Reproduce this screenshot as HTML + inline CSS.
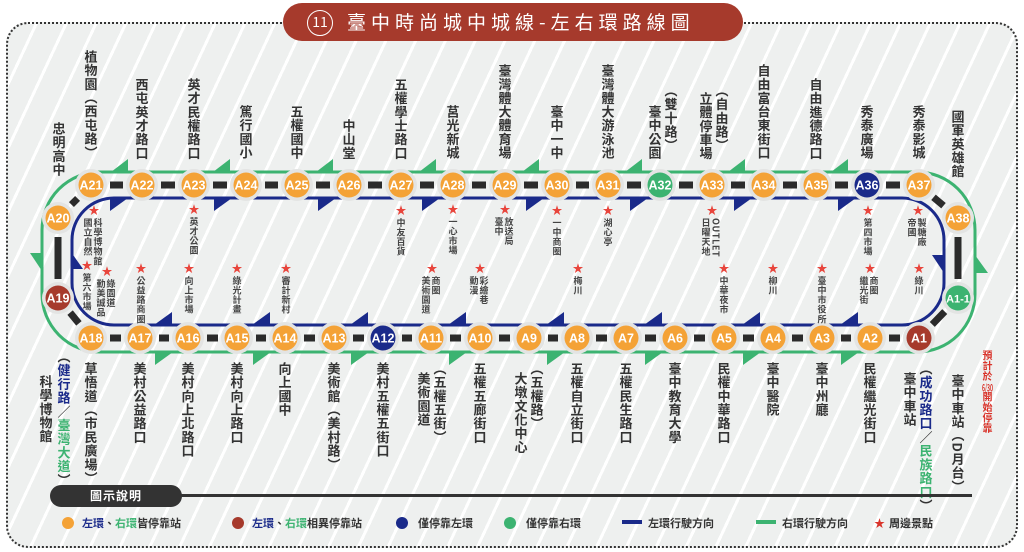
<!DOCTYPE html>
<html><head><meta charset="utf-8">
<style>
*{margin:0;padding:0;box-sizing:border-box}
body{width:1024px;height:552px;overflow:hidden;background:#fff;position:relative;font-family:"Liberation Sans","Noto Sans CJK TC",sans-serif}
#bg{position:absolute;left:6px;top:22px;width:1012px;height:526px;border:2px dotted #333;border-radius:22px;
background:repeating-linear-gradient(115deg,#eef0ef 0 24px,#fff 24px 27px)}
#title{position:absolute;left:283px;top:3px;width:460px;height:38px;background:#a63a2c;border-radius:19px;color:#fff;font-size:19px;letter-spacing:5px;line-height:38px;padding-left:24px;font-family:"Noto Sans CJK TC",sans-serif}
#title .n{display:inline-block;width:26px;height:26px;border:1.5px solid #fff;border-radius:50%;font-size:14px;line-height:23px;text-align:center;letter-spacing:0;vertical-align:2px;margin-right:14px}
svg{position:absolute;left:0;top:0}
.v{position:absolute;writing-mode:vertical-rl;font-family:"Noto Sans CJK TC",sans-serif;font-weight:bold;color:#333;white-space:nowrap}
.s{position:absolute;color:#e8453c;font-size:11px;line-height:11px;width:12px;text-align:center}
.lg{position:absolute;top:515px;font-size:11px;font-weight:bold;color:#333;font-family:"Noto Sans CJK TC",sans-serif;line-height:16px}
.b{color:#1a2a8a}.g{color:#3cb371}.r{color:#d9342b}
</style></head><body>
<div id="bg"></div>
<div id="title"><span class="n">11</span>臺中時尚城中城線-左右環路線圖</div>
<svg width="1024" height="552" id="sv"></svg>
<div id="lab"></div>
<div style="position:absolute;left:50px;top:485px;width:132px;height:22px;background:#333;border-radius:11px;color:#fff;font-size:12px;font-weight:bold;text-align:center;line-height:22px;font-family:'Noto Sans CJK TC',sans-serif;letter-spacing:1px">圖示說明</div>
<div style="position:absolute;left:180px;top:494px;width:792px;height:3px;background:#333"></div>
<div class="lg" style="left:62px"><span style="display:inline-block;width:12px;height:12px;border-radius:50%;background:#f4a236;vertical-align:-2px;margin-right:8px"></span><span class="b">左環</span>、<span class="g">右環</span>皆停靠站</div>
<div class="lg" style="left:232px"><span style="display:inline-block;width:12px;height:12px;border-radius:50%;background:#a63a2c;vertical-align:-2px;margin-right:8px"></span><span class="b">左環</span>、<span class="g">右環</span>相異停靠站</div>
<div class="lg" style="left:396px"><span style="display:inline-block;width:12px;height:12px;border-radius:50%;background:#1a2a8a;vertical-align:-2px;margin-right:10px"></span>僅停靠左環</div>
<div class="lg" style="left:504px"><span style="display:inline-block;width:12px;height:12px;border-radius:50%;background:#3cb371;vertical-align:-2px;margin-right:10px"></span>僅停靠右環</div>
<div class="lg" style="left:622px"><span style="display:inline-block;width:20px;height:4px;background:#1a2a8a;vertical-align:3px;margin-right:6px"></span>左環行駛方向</div>
<div class="lg" style="left:756px"><span style="display:inline-block;width:20px;height:4px;background:#3cb371;vertical-align:3px;margin-right:6px"></span>右環行駛方向</div>
<div class="lg" style="left:874px"><span class="r" style="margin-right:4px">★</span>周邊景點</div>
<script>
(function(){
var sv=document.getElementById('sv');var h='';
var O='#f4a236',R='#a63a2c',N='#1a2a8a',G='#3cb371';
h+='<rect x="42" y="172" width="933" height="180" rx="58" fill="none" stroke="'+G+'" stroke-width="3"/>';
h+='<rect x="72" y="198" width="872" height="127" rx="42" fill="none" stroke="'+N+'" stroke-width="3"/>';
var tp=[[91,'A21'],[142,'A22'],[194,'A23'],[246,'A24'],[297,'A25'],[349,'A26'],[401,'A27'],[453,'A28'],[505,'A29'],[557,'A30'],[608,'A31'],[660,'A32',G],[712,'A33'],[764,'A34'],[816,'A35'],[867,'A36',N],[919,'A37']];
var bt=[[91,'A18'],[140,'A17'],[188,'A16'],[237,'A15'],[285,'A14'],[334,'A13'],[383,'A12',N],[431,'A11'],[480,'A10'],[529,'A9'],[577,'A8'],[626,'A7'],[675,'A6'],[724,'A5'],[773,'A4'],[822,'A3'],[870,'A2'],[919,'A1',R]];
var pts=[];tp.forEach(function(t){pts.push([t[0],185,t[1],t[2]||O])});
pts.push([958,218,'A38',O]);pts.push([958,298,'A1-1',G]);
bt.slice().reverse().forEach(function(t){pts.push([t[0],338,t[1],t[2]||O])});
pts.push([58,298,'A19',R]);pts.push([58,218,'A20',O]);
for(var i=0;i<pts.length;i++){var a=pts[i],b=pts[(i+1)%pts.length];var dx=b[0]-a[0],dy=b[1]-a[1],ln=Math.hypot(dx,dy),ux=dx/ln,uy=dy/ln,k=19;
h+='<line x1="'+(a[0]+ux*k)+'" y1="'+(a[1]+uy*k)+'" x2="'+(b[0]-ux*k)+'" y2="'+(b[1]-uy*k)+'" stroke="#2b2b2b" stroke-width="7"/>';}
[128,230,333,436,539,642,745,848].forEach(function(x){h+='<polygon points="'+(x-17)+',172 '+x+',172 '+x+',159" fill="'+G+'"/>'});
[110,214,318,422,526,630,734,838].forEach(function(x){h+='<polygon points="'+x+',198 '+(x+18)+',198 '+x+',211" fill="'+N+'"/>'});
[172,270,368,466,564,662,760,858].forEach(function(x){h+='<polygon points="'+x+',325 '+(x-18)+',325 '+x+',312" fill="'+N+'"/>'});
[155,253,351,449,547,645,743,841].forEach(function(x){h+='<polygon points="'+x+',352 '+(x+18)+',352 '+x+',365" fill="'+G+'"/>'});
h+='<polygon points="30,253 42,253 42,271" fill="'+G+'"/><polygon points="71,252 71,269 83,269" fill="'+N+'"/>';
h+='<polygon points="944,273 944,255 932,255" fill="'+N+'"/><polygon points="975,273 975,255 988,273" fill="'+G+'"/>';
pts.forEach(function(p){h+='<circle cx="'+p[0]+'" cy="'+p[1]+'" r="16" fill="#e3e4e3"/><circle cx="'+p[0]+'" cy="'+p[1]+'" r="12.5" fill="'+p[3]+'"/>'+
'<text x="'+p[0]+'" y="'+(p[1]+4.5)+'" text-anchor="middle" font-family="Liberation Sans" font-weight="bold" font-size="'+(p[2].length>3?11:12.5)+'" fill="#fff">'+p[2]+'</text>'});
sv.innerHTML=h;
var out='';
function col(x,txt,opt){var fs=opt.fs||13,ls=(opt.ls==null)?0.7:opt.ls;var st='left:'+(x-fs/2)+'px;font-size:'+fs+'px;line-height:'+fs+'px;letter-spacing:'+ls+'px;';
if(opt.bottom!=null)st+='bottom:'+(552-opt.bottom)+'px;';else st+='top:'+opt.top+'px;';
if(opt.c)st+='color:'+opt.c+';';out+='<div class="v" style="'+st+'">'+txt+'</div>';}
var T=[[59,'忠明高中',177],[91,'植物園（西屯路）'],[142,'西屯英才路口'],[194,'英才民權路口'],[246,'篤行國小'],[297,'五權國中'],[349,'中山堂'],[401,'五權學士路口'],[453,'莒光新城'],[505,'臺灣體大體育場'],[557,'臺中一中'],[608,'臺灣體大游泳池'],[655,'臺中公園'],[671,'（雙十路）',152],[706,'立體停車場'],[722,'（自由路）',152],[764,'自由富台東街口'],[816,'自由進德路口'],[867,'秀泰廣場'],[919,'秀泰影城'],[958,'國軍英雄館',178]];
T.forEach(function(t){col(t[0],t[1],{bottom:t[2]||160})});
var B=[[91,'草悟道（市民廣場）'],[140,'美村公益路口'],[188,'美村向上北路口'],[237,'美村向上路口'],[285,'向上國中'],[334,'美術館（美村路）'],[383,'美村五權五街口'],[440,'（五權五街）'],[424,'美術園道',372],[480,'五權五廊街口'],[537,'（五權路）'],[521,'大墩文化中心',372],[577,'五權自立街口'],[626,'五權民生路口'],[675,'臺中教育大學'],[724,'民權中華路口'],[773,'臺中醫院'],[822,'臺中州廳'],[870,'民權繼光街口'],[910,'臺中車站',372],[958,'臺中車站（D月台）',374],[46,'科學博物館',375]];
B.forEach(function(t){col(t[0],t[1],{top:t[2]||362})});
col(64,'（<span class="b">健行路</span>／<span class="g">臺灣大道</span>）',{top:350});
col(926,'（<span class="b">成功路口</span>／<span class="g">民族路口</span>）',{top:362});
col(987,'預計於<span style="text-combine-upright:all">6/30</span>開始停靠',{top:350,fs:10,ls:0.5,c:'#d9342b'});
var A=[[94,212,['科學博物館','國立自然']],[194,211,['英才公園']],[401,212,['中友百貨']],[453,211,['一心市場']],[505,211,['放送局','臺中']],[557,212,['一中商圈']],[608,212,['湖心亭']],[712,212,['OUTLET','日曜天地']],[868,212,['第四市場']],[918,212,['製糖廠','帝國']],
[87,267,['第六市場']],[107,273,['綠園道','勤美誠品']],[141,270,['公益路商圈']],[189,270,['向上市場']],[237,270,['綠光計畫']],[286,270,['審計新村']],[432,270,['商圈','美術園道']],[480,270,['彩繪巷','動漫']],[578,270,['梅川']],[724,270,['中華夜市']],[773,270,['柳川']],[822,270,['臺中市役所']],[870,270,['商圈','繼光街']],[919,270,['綠川']]];
A.forEach(function(a){out+='<div class="s" style="left:'+(a[0]-6)+'px;top:'+(a[1]-6)+'px">★</div>';
a[2].forEach(function(t,i){col(a[0]+(a[2].length>1?(i==0?4:-6):0),t,{top:a[1]+6,fs:9,ls:0.6,c:'#444'})});});
document.getElementById('lab').innerHTML=out;
})();
</script>
</body></html>
